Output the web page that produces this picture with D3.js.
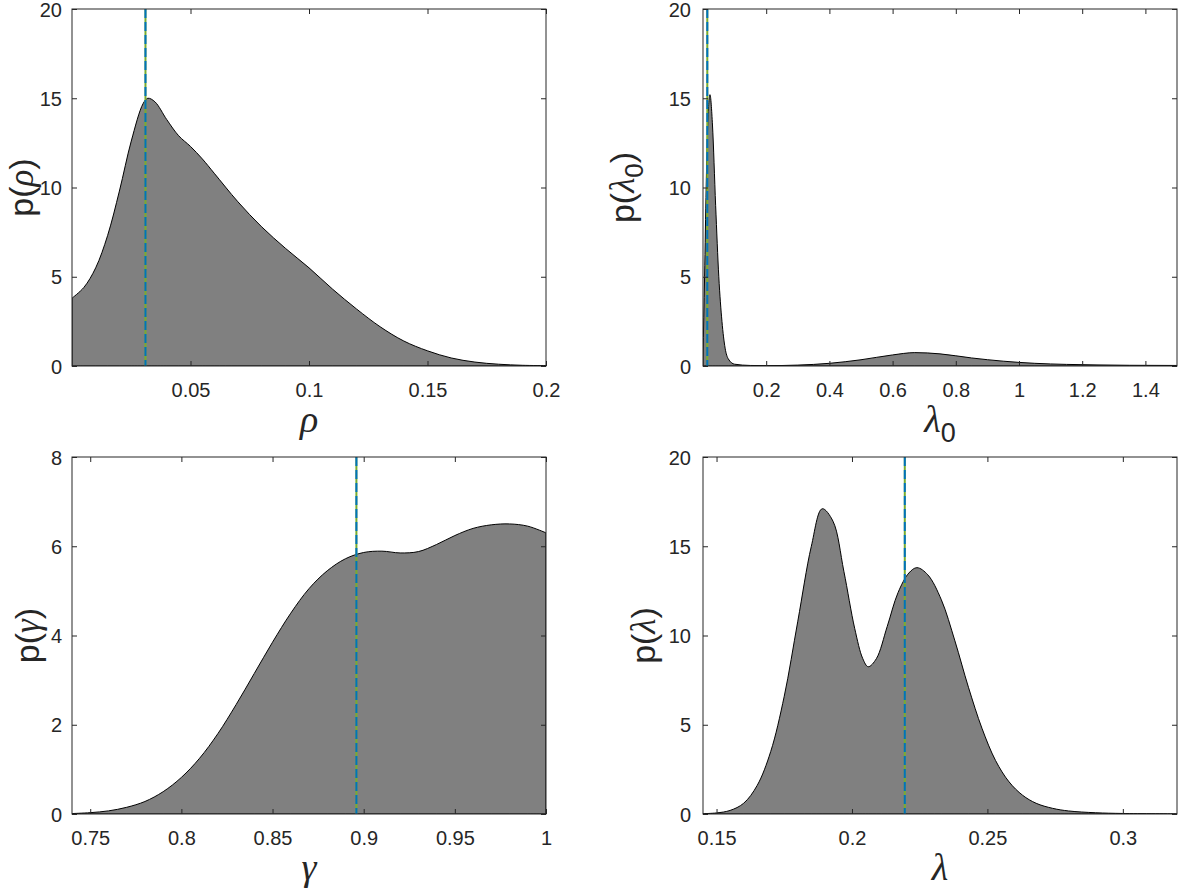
<!DOCTYPE html>
<html>
<head>
<meta charset="utf-8">
<script src="https://cdn.jsdelivr.net/npm/d3@7"></script>
<style>
  body { margin: 0; background: #fff; }
  text { fill: #262626; }
</style>
</head>
<body>
<div id="chart"></div>
<script>
// ---- data ----
// rho
const rhoX = [0, 0.005, 0.01, 0.015, 0.02, 0.025, 0.03, 0.032, 0.035, 0.04, 0.045, 0.05, 0.055, 0.06, 0.07, 0.08, 0.09, 0.1, 0.11, 0.12, 0.13, 0.14, 0.15, 0.16, 0.17, 0.18, 0.19, 0.2];
const rhoP = [3.8, 4.4, 5.5, 7.3, 9.8, 12.6, 14.7, 15.0, 14.8, 13.8, 12.9, 12.3, 11.6, 10.8, 9.2, 7.8, 6.6, 5.5, 4.3, 3.2, 2.2, 1.4, 0.85, 0.45, 0.22, 0.1, 0.04, 0.02];
const rhoTicks = [0.05, 0.1, 0.15, 0.2];
const rhoYTicks = [0, 5, 10, 15, 20];
const rhoMode = 0.031;

// lambda_0
const lam0X = [0, 0.005, 0.01, 0.015, 0.022, 0.03, 0.04, 0.05, 0.06, 0.07, 0.08, 0.1, 0.15, 0.2, 0.3, 0.4, 0.5, 0.6, 0.67, 0.75, 0.85, 0.95, 1.05, 1.15, 1.25, 1.35, 1.5];
const lam0P = [0.5, 5, 10, 13.5, 15.2, 13.5, 9, 5, 2.5, 1.0, 0.4, 0.1, 0.03, 0.02, 0.05, 0.15, 0.35, 0.62, 0.75, 0.68, 0.45, 0.27, 0.15, 0.09, 0.06, 0.04, 0.03];
const lam0Ticks = [0.2, 0.4, 0.6, 0.8, 1, 1.2, 1.4];
const lam0YTicks = [0, 5, 10, 15, 20];
const lam0Mode = 0.0136;

// gamma
const gammaX = [0.74, 0.75, 0.76, 0.77, 0.78, 0.79, 0.8, 0.81, 0.82, 0.83, 0.84, 0.85, 0.86, 0.87, 0.88, 0.89, 0.9, 0.91, 0.92, 0.93, 0.94, 0.95, 0.96, 0.97, 0.98, 0.99, 1.0];
const gammaP = [0.01, 0.03, 0.07, 0.15, 0.28, 0.5, 0.82, 1.25, 1.8, 2.45, 3.15, 3.85, 4.5, 5.05, 5.45, 5.72, 5.86, 5.89, 5.85, 5.88, 6.04, 6.24, 6.4, 6.48, 6.5, 6.45, 6.3];
const gammaTicks = [0.75, 0.8, 0.85, 0.9, 0.95, 1];
const gammaYTicks = [0, 2, 4, 6, 8];
const gammaMode = 0.896;

// lambda
const lamX = [0.145, 0.15, 0.155, 0.16, 0.165, 0.17, 0.175, 0.18, 0.185, 0.189, 0.193, 0.197, 0.201, 0.204, 0.206, 0.209, 0.213, 0.217, 0.221, 0.224, 0.228, 0.233, 0.238, 0.243, 0.248, 0.253, 0.258, 0.263, 0.268, 0.274, 0.28, 0.29, 0.3, 0.32];
const lamP = [0.02, 0.06, 0.2, 0.6, 1.6, 3.5, 6.6, 10.8, 15.0, 17.1, 16.4, 13.6, 10.4, 8.7, 8.25, 8.7, 10.5, 12.4, 13.5, 13.8, 13.4, 12.0, 9.7, 7.1, 4.8, 3.0, 1.8, 1.05, 0.6, 0.32, 0.17, 0.07, 0.03, 0.005];
const lamTicks = [0.15, 0.2, 0.25, 0.3];
const lamYTicks = [0, 5, 10, 15, 20];
const lamMode = 0.2195;

// ---- drawing ----
const svg = d3.select("#chart").append("svg")
  .attr("width", 1178).attr("height", 892);

const sansFont = "'Liberation Sans', Arial, Helvetica, sans-serif";
const greekFont = "'Liberation Serif', 'DejaVu Serif', serif";

function addLabel(sel, greek, sub) {
  sel.append("tspan").style("font-family", sansFont).text("p(");
  sel.append("tspan").style("font-family", greekFont).style("font-style", "italic").style("font-size", "35px").text(greek);
  if (sub) {
    sel.append("tspan").style("font-family", sansFont).style("font-size", "26px")
      .attr("dy", 9).text(sub);
    sel.append("tspan").style("font-family", sansFont).attr("dy", -9).text(")");
  } else {
    sel.append("tspan").style("font-family", sansFont).text(")");
  }
}

function drawPanel(cfg) {
  const left = cfg.left, top = cfg.top, w = 474, h = 357;
  const x = d3.scaleLinear().domain(cfg.xDomain).range([left, left + w]);
  const y = d3.scaleLinear().domain(cfg.yDomain).range([top + h, top]);
  const data = cfg.xs.map((v, i) => [v, cfg.ps[i]]);

  const clipId = "clip" + cfg.id;
  svg.append("clipPath").attr("id", clipId)
    .append("rect").attr("x", left).attr("y", top).attr("width", w).attr("height", h);

  const g = svg.append("g").attr("clip-path", "url(#" + clipId + ")");

  const area = d3.area()
    .x(d => x(d[0]))
    .y0(y(0))
    .y1(d => y(Math.max(0, d[1])))
    .curve(cfg.curve);

  g.append("path").datum(data)
    .attr("d", area)
    .attr("fill", "#808080")
    .attr("stroke", "#000")
    .attr("stroke-width", 1);

  // mode line: green under blue dashes
  g.append("line")
    .attr("x1", x(cfg.mode)).attr("x2", x(cfg.mode))
    .attr("y1", top).attr("y2", top + h)
    .attr("stroke", "#77AC30").attr("stroke-width", 2);
  g.append("line")
    .attr("x1", x(cfg.mode)).attr("x2", x(cfg.mode))
    .attr("y1", top).attr("y2", top + h)
    .attr("stroke", "#0072BD").attr("stroke-width", 2)
    .attr("stroke-dasharray", "9,4");

  // axes (ticks inward on all four sides)
  const tickLen = 5;
  const fmt = d3.format("~g");
  const axB = svg.append("g").attr("transform", "translate(0," + (top + h) + ")")
    .call(d3.axisBottom(x).tickValues(cfg.xTicks).tickSizeInner(-tickLen).tickSizeOuter(0).tickPadding(12).tickFormat(fmt));
  const axT = svg.append("g").attr("transform", "translate(0," + top + ")")
    .call(d3.axisTop(x).tickValues(cfg.xTicks).tickSizeInner(-tickLen).tickSizeOuter(0).tickFormat(""));
  const axL = svg.append("g").attr("transform", "translate(" + left + ",0)")
    .call(d3.axisLeft(y).tickValues(cfg.yTicks).tickSizeInner(-tickLen).tickSizeOuter(0).tickPadding(cfg.yPad).tickFormat(fmt));
  const axR = svg.append("g").attr("transform", "translate(" + (left + w) + ",0)")
    .call(d3.axisRight(y).tickValues(cfg.yTicks).tickSizeInner(-tickLen).tickSizeOuter(0).tickFormat(""));

  [axB, axT, axL, axR].forEach(a => {
    a.select(".domain").remove();
    a.selectAll("line").attr("stroke", "#262626");
    a.selectAll("text").style("font-family", sansFont).style("font-size", "20px").attr("fill", "#262626");
  });
  axB.selectAll("text").attr("dy", "0.95em");
  axL.selectAll("text").attr("dy", "0.36em");

  svg.append("rect")
    .attr("x", left).attr("y", top).attr("width", w).attr("height", h)
    .attr("fill", "none").attr("stroke", "#262626").attr("stroke-width", 1);

  // x label
  const xl = svg.append("text")
    .attr("x", left + w / 2).attr("y", top + h + 66)
    .attr("text-anchor", "middle")
    .style("font-size", "38px");
  xl.append("tspan").style("font-family", greekFont).style("font-style", "italic").text(cfg.greek);
  if (cfg.sub) {
    xl.append("tspan").style("font-family", sansFont).style("font-size", "27px").attr("dy", 10).text(cfg.sub);
  }

  // y label
  const yl = svg.append("text")
    .attr("transform", "translate(" + cfg.yLabelX + "," + (top + h / 2) + ") rotate(-90)")
    .attr("text-anchor", "middle")
    .style("font-size", "34px");
  addLabel(yl, cfg.greek, cfg.sub);
}

const smooth = d3.curveCatmullRom.alpha(0.5);

drawPanel({ id: 1, left: 72, top: 9, xDomain: [0, 0.2], yDomain: [0, 20], xs: rhoX, ps: rhoP, curve: smooth,
  xTicks: rhoTicks, yTicks: rhoYTicks, mode: rhoMode, greek: "\u03C1", sub: null, yLabelX: 33, yPad: 10 });
drawPanel({ id: 2, left: 703, top: 9, xDomain: [0, 1.5], yDomain: [0, 20], xs: lam0X, ps: lam0P, curve: d3.curveMonotoneX,
  xTicks: lam0Ticks, yTicks: lam0YTicks, mode: lam0Mode, greek: "\u03BB", sub: "0", yLabelX: 634, yPad: 12 });
drawPanel({ id: 3, left: 72, top: 457, xDomain: [0.74, 1], yDomain: [0, 8], xs: gammaX, ps: gammaP, curve: smooth,
  xTicks: gammaTicks, yTicks: gammaYTicks, mode: gammaMode, greek: "\u03B3", sub: null, yLabelX: 39, yPad: 10 });
drawPanel({ id: 4, left: 703, top: 457, xDomain: [0.145, 0.32], yDomain: [0, 20], xs: lamX, ps: lamP, curve: smooth,
  xTicks: lamTicks, yTicks: lamYTicks, mode: lamMode, greek: "\u03BB", sub: null, yLabelX: 655, yPad: 12 });
</script>
</body>
</html>
